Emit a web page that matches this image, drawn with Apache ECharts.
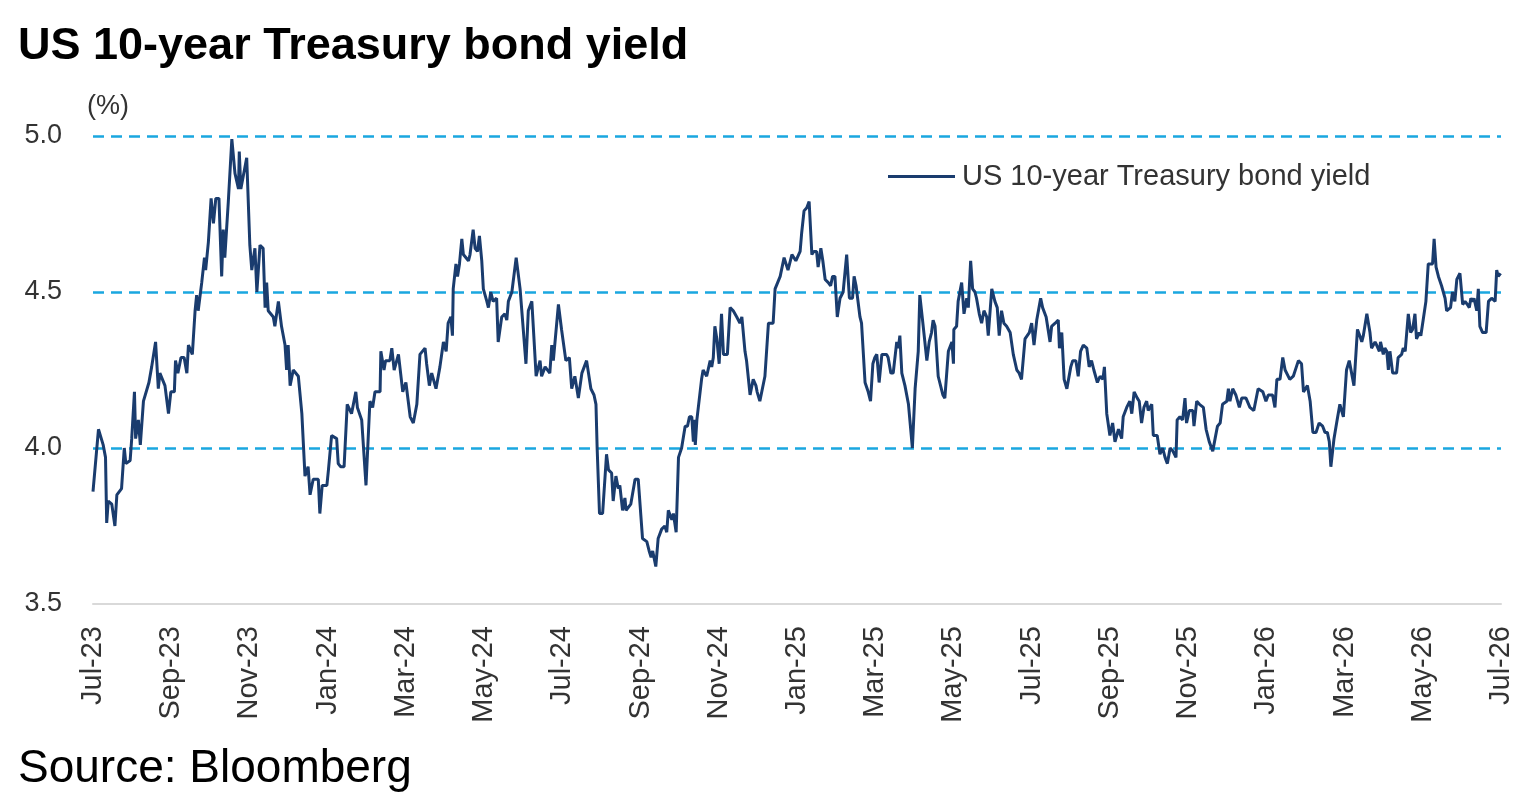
<!DOCTYPE html>
<html>
<head>
<meta charset="utf-8">
<title>US 10-year Treasury bond yield</title>
<script src="https://cdn.jsdelivr.net/npm/echarts@6/dist/echarts.min.js"></script>
<style>
  html, body { margin: 0; padding: 0; background: #fff; }
  #chart { width: 1526px; height: 798px; }
</style>
</head>
<body>
<div id="chart"></div>
<script type="text/javascript">
// tick labels, one every 2 months starting Jul-23
var monthLabels = ['Jul-23', 'Sep-23', 'Nov-23', 'Jan-24', 'Mar-24', 'May-24', 'Jul-24', 'Sep-24',
  'Nov-24', 'Jan-25', 'Mar-25', 'May-25', 'Jul-25', 'Sep-25', 'Nov-25', 'Jan-26', 'Mar-26',
  'May-26', 'Jul-26'];

// position of each reading in months since Jul-23
var monthPos = [
  0.00, 0.14, 0.26, 0.32, 0.35, 0.39, 0.48, 0.56, 0.61, 0.73,
  0.80, 0.84, 0.95, 0.99, 1.06, 1.09, 1.16, 1.21, 1.29, 1.43,
  1.50, 1.60, 1.67, 1.71, 1.84, 1.93, 1.99, 2.08, 2.11, 2.17,
  2.25, 2.33, 2.40, 2.44, 2.54, 2.61, 2.65, 2.69, 2.78, 2.85,
  2.88, 2.95, 3.02, 3.08, 3.14, 3.22, 3.29, 3.33, 3.37, 3.46,
  3.55, 3.63, 3.72, 3.74, 3.78, 3.93, 4.01, 4.06, 4.14, 4.19,
  4.27, 4.35, 4.40, 4.44, 4.48, 4.61, 4.65, 4.74, 4.82, 4.91,
  4.95, 4.99, 5.04, 5.12, 5.25, 5.34, 5.42, 5.50, 5.55, 5.63,
  5.76, 5.80, 5.86, 5.98, 6.02, 6.10,
  6.23, 6.27, 6.33, 6.42, 6.50, 6.61, 6.72, 6.76, 6.87, 6.98,
  7.08, 7.15, 7.21, 7.34, 7.36, 7.44, 7.48, 7.59, 7.64, 7.70,
  7.81, 7.92, 8.00, 8.11, 8.19, 8.28, 8.36, 8.49, 8.53, 8.60,
  8.66, 8.77, 8.87, 8.96, 9.03, 9.08, 9.15, 9.19, 9.21, 9.28,
  9.32, 9.37, 9.43, 9.47, 9.60, 9.64, 9.72, 9.77, 9.83, 9.88,
  9.94, 9.98, 10.07, 10.11, 10.17, 10.23, 10.32, 10.36, 10.45, 10.53,
  10.58, 10.62, 10.71, 10.82, 10.92, 11.07, 11.13, 11.22, 11.33, 11.43,
  11.47, 11.56, 11.68, 11.73, 11.77, 11.90, 11.98, 12.09, 12.18, 12.24,
  12.32, 12.41,
  12.50, 12.62, 12.73, 12.81, 12.86, 12.89, 12.95, 13.03, 13.13, 13.18,
  13.26, 13.30, 13.37, 13.43, 13.47, 13.54, 13.60, 13.63, 13.75, 13.86,
  13.94, 14.05, 14.16, 14.22, 14.27, 14.31, 14.39, 14.45, 14.54, 14.62,
  14.67, 14.71, 14.80, 14.84, 14.91, 14.97, 15.05, 15.14, 15.20, 15.25,
  15.31, 15.35, 15.37, 15.40, 15.44, 15.56, 15.60, 15.69, 15.78, 15.82,
  15.86, 15.90, 15.95, 16.01, 16.07, 16.12, 16.22, 16.29, 16.37, 16.46,
  16.54, 16.59, 16.67, 16.71, 16.80, 16.88, 16.95, 16.98, 17.05, 17.18,
  17.27, 17.39, 17.44, 17.57, 17.67, 17.77, 17.87, 17.97,
  18.08, 18.12, 18.18, 18.25, 18.31, 18.38, 18.43, 18.50, 18.54, 18.61,
  18.66, 18.72, 18.80, 18.86, 18.91, 18.97, 19.03, 19.10, 19.18, 19.27,
  19.34, 19.42, 19.46, 19.51, 19.61, 19.65, 19.74, 19.82, 19.88, 19.94,
  19.99, 20.04, 20.10, 20.17, 20.29, 20.33, 20.40, 20.46, 20.55, 20.59,
  20.63, 20.68, 20.76, 20.85, 20.95, 21.02, 21.10, 21.14, 21.21, 21.32,
  21.38, 21.44, 21.48, 21.53, 21.61, 21.73, 21.78, 21.87, 21.96, 22.00,
  22.01, 22.08, 22.12, 22.21, 22.27, 22.34, 22.38, 22.44, 22.49, 22.55,
  22.59, 22.66, 22.72, 22.78, 22.85, 22.89, 22.98, 23.06, 23.12, 23.17,
  23.23, 23.29, 23.36, 23.45, 23.53, 23.62, 23.68, 23.74, 23.83, 23.94,
  24.00, 24.06, 24.13, 24.23, 24.28, 24.37, 24.47,
  24.51, 24.60, 24.68, 24.71, 24.77, 24.83, 24.90, 25.00, 25.05, 25.13,
  25.19, 25.25, 25.32, 25.41, 25.47, 25.53, 25.59, 25.68, 25.75, 25.82,
  25.86, 25.92, 26.00, 26.07, 26.13, 26.22, 26.30, 26.34, 26.43, 26.51,
  26.56, 26.62, 26.70, 26.75, 26.81, 26.87, 26.94, 26.98, 27.07, 27.11,
  27.21, 27.28, 27.35, 27.41, 27.47, 27.54, 27.61, 27.69, 27.72, 27.79,
  27.86, 27.92, 27.96, 28.03, 28.12, 28.15, 28.22, 28.29, 28.39, 28.46,
  28.54, 28.63, 28.69, 28.75, 28.82, 28.88, 28.99, 29.03, 29.07, 29.14,
  29.22, 29.31, 29.37, 29.48, 29.58, 29.68, 29.79, 29.91, 29.99, 30.05,
  30.16, 30.22, 30.27, 30.35, 30.42, 30.48, 30.60, 30.69, 30.82,
  30.90, 30.95, 31.05, 31.12, 31.19, 31.27, 31.35, 31.44, 31.50, 31.56,
  31.61, 31.65, 31.73, 31.81, 31.88, 31.97, 32.05, 32.12, 32.18, 32.24,
  32.27, 32.33, 32.39, 32.44, 32.48, 32.57, 32.65, 32.69, 32.78, 32.82,
  32.89, 32.92, 32.99, 33.03, 33.08, 33.12, 33.16, 33.23, 33.33, 33.37,
  33.46, 33.50, 33.55, 33.63, 33.69, 33.74, 33.80, 33.84, 33.91, 33.95,
  34.01, 34.08, 34.14, 34.18, 34.25, 34.29, 34.34, 34.40, 34.48, 34.57,
  34.61, 34.65, 34.71, 34.76, 34.82, 34.87, 34.95, 35.02, 35.08, 35.14,
  35.19, 35.23, 35.28, 35.31, 35.38, 35.42, 35.46, 35.53, 35.62, 35.68,
  35.76, 35.85, 35.89, 35.93, 35.99
];

// yield (%)
var yields = [
  3.86, 4.06, 4.01, 3.97, 3.76, 3.83, 3.82, 3.75, 3.85, 3.87,
  4.00, 3.95, 3.96, 4.03, 4.18, 4.03, 4.09, 4.01, 4.15, 4.21,
  4.26, 4.34, 4.19, 4.24, 4.20, 4.11, 4.18, 4.18, 4.28, 4.24,
  4.29, 4.29, 4.24, 4.33, 4.30, 4.44, 4.49, 4.44, 4.53, 4.61,
  4.57, 4.66, 4.80, 4.72, 4.80, 4.80, 4.55, 4.70, 4.61, 4.79,
  4.99, 4.88, 4.83, 4.95, 4.83, 4.93, 4.65, 4.57, 4.64, 4.50,
  4.65, 4.64, 4.45, 4.53, 4.44, 4.42, 4.39, 4.47, 4.39, 4.33,
  4.25, 4.33, 4.20, 4.25, 4.23, 4.11, 3.91, 3.94, 3.85, 3.90,
  3.90, 3.79, 3.88, 3.88, 3.93, 4.04,
  4.03, 3.95, 3.94, 3.94, 4.14, 4.11, 4.18, 4.13, 4.09, 3.88,
  4.15, 4.13, 4.18, 4.18, 4.31, 4.25, 4.28, 4.28, 4.32, 4.25,
  4.30, 4.18, 4.21, 4.10, 4.08, 4.14, 4.30, 4.32, 4.27, 4.20,
  4.24, 4.19, 4.26, 4.34, 4.31, 4.40, 4.42, 4.36, 4.51, 4.59,
  4.55, 4.59, 4.67, 4.62, 4.60, 4.62, 4.70, 4.64, 4.63, 4.68,
  4.60, 4.51, 4.47, 4.45, 4.50, 4.47, 4.48, 4.34, 4.42, 4.43,
  4.41, 4.47, 4.50, 4.61, 4.51, 4.27, 4.44, 4.47, 4.23, 4.28,
  4.23, 4.26, 4.24, 4.33, 4.28, 4.46, 4.38, 4.28, 4.29, 4.19,
  4.23, 4.16,
  4.24, 4.28, 4.19, 4.17, 4.14, 4.00, 3.79, 3.79, 3.98, 3.93,
  3.92, 3.83, 3.91, 3.87, 3.88, 3.80, 3.84, 3.80, 3.82, 3.90,
  3.90, 3.71, 3.70, 3.67, 3.65, 3.67, 3.62, 3.71, 3.74, 3.75,
  3.73, 3.80, 3.77, 3.79, 3.73, 3.97, 4.00, 4.07, 4.07, 4.10,
  4.10, 4.02, 4.09, 4.01, 4.09, 4.22, 4.25, 4.23, 4.28, 4.26,
  4.29, 4.39, 4.35, 4.27, 4.43, 4.30, 4.30, 4.45, 4.44, 4.42,
  4.40, 4.42, 4.31, 4.28, 4.17, 4.22, 4.20, 4.18, 4.15, 4.23,
  4.40, 4.40, 4.51, 4.55, 4.61, 4.57, 4.62, 4.60,
  4.63, 4.69, 4.76, 4.77, 4.79, 4.62, 4.63, 4.63, 4.58, 4.64,
  4.60, 4.54, 4.53, 4.52, 4.55, 4.55, 4.42, 4.48, 4.50, 4.62,
  4.48, 4.48, 4.55, 4.52, 4.42, 4.40, 4.21, 4.18, 4.15, 4.27,
  4.29, 4.30, 4.21, 4.30, 4.30, 4.29, 4.24, 4.24, 4.34, 4.32,
  4.36, 4.24, 4.20, 4.14, 4.00, 4.19, 4.31, 4.49, 4.41, 4.28,
  4.34, 4.37, 4.41, 4.39, 4.23, 4.17, 4.16, 4.31, 4.34, 4.27,
  4.38, 4.39, 4.47, 4.53, 4.43, 4.48, 4.45, 4.60, 4.51, 4.50,
  4.48, 4.43, 4.40, 4.44, 4.42, 4.36, 4.51, 4.47, 4.45, 4.36,
  4.44, 4.40, 4.39, 4.37, 4.30, 4.25, 4.24, 4.22, 4.35, 4.37,
  4.40, 4.33, 4.41, 4.48, 4.45, 4.42, 4.34,
  4.39, 4.40, 4.41, 4.32, 4.37, 4.22, 4.19, 4.26, 4.28, 4.28,
  4.23, 4.31, 4.33, 4.32, 4.26, 4.28, 4.25, 4.21, 4.23, 4.22,
  4.26, 4.11, 4.04, 4.08, 4.02, 4.06, 4.03, 4.10, 4.13, 4.15,
  4.11, 4.18, 4.16, 4.15, 4.08, 4.13, 4.15, 4.12, 4.14, 4.04,
  4.04, 3.98, 4.00, 3.97, 3.95, 4.00, 3.99, 3.97, 4.09, 4.10,
  4.09, 4.16, 4.08, 4.12, 4.12, 4.07, 4.15, 4.14, 4.13, 4.06,
  4.02, 3.99, 4.03, 4.07, 4.08, 4.14, 4.15, 4.19, 4.15, 4.19,
  4.17, 4.13, 4.16, 4.16, 4.13, 4.12, 4.19, 4.18, 4.15, 4.17,
  4.17, 4.13, 4.22, 4.22, 4.29, 4.25, 4.22, 4.23, 4.28,
  4.27, 4.18, 4.20, 4.15, 4.05, 4.05, 4.08, 4.07, 4.05, 4.05,
  4.02, 3.94, 4.03, 4.09, 4.14, 4.10, 4.25, 4.28, 4.24, 4.20,
  4.26, 4.38, 4.36, 4.34, 4.36, 4.43, 4.37, 4.32, 4.34, 4.33,
  4.31, 4.34, 4.30, 4.32, 4.31, 4.25, 4.31, 4.24, 4.24, 4.29,
  4.30, 4.32, 4.31, 4.43, 4.37, 4.38, 4.43, 4.35, 4.37, 4.36,
  4.41, 4.47, 4.59, 4.59, 4.59, 4.67, 4.58, 4.55, 4.52, 4.48,
  4.44, 4.44, 4.45, 4.50, 4.47, 4.54, 4.56, 4.46, 4.47, 4.46,
  4.45, 4.48, 4.47, 4.48, 4.44, 4.51, 4.39, 4.37, 4.37, 4.47,
  4.48, 4.47, 4.57, 4.55, 4.56
];

var seriesName = 'US 10-year Treasury bond yield';

var seriesData = [];
for (var i = 0; i < Math.min(monthPos.length, yields.length); i++) {
  seriesData.push([monthPos[i], yields[i]]);
}
if (monthPos.length !== yields.length) console.error('length mismatch', monthPos.length, yields.length);

var chart = echarts.init(document.getElementById('chart'));

var option = {
  animation: false,
  backgroundColor: '#ffffff',
  textStyle: { fontFamily: 'Liberation Sans, Arial, sans-serif' },
  grid: { left: 93, right: 25, top: 136, bottom: 194, containLabel: false },
  legend: {
    data: [seriesName],
    left: 888,
    top: 162,
    padding: 0,
    icon: 'rect',
    itemWidth: 67,
    itemHeight: 3,
    textStyle: { fontSize: 29, color: '#333333', padding: [0, 0, 0, 2] }
  },
  xAxis: {
    type: 'value',
    min: 0,
    max: 36,
    interval: 2,
    axisLine: { show: true, onZero: false, lineStyle: { color: '#d9d9d9', width: 2 } },
    axisTick: { show: false },
    splitLine: { show: false },
    axisLabel: {
      rotate: 90,
      margin: 22,
      fontSize: 29,
      color: '#333333',
      showMinLabel: true,
      showMaxLabel: true,
      formatter: function (v) { return monthLabels[Math.round(v / 2)]; }
    }
  },
  yAxis: {
    type: 'value',
    min: 3.5,
    max: 5.0,
    interval: 0.5,
    name: '(%)',
    nameLocation: 'end',
    nameGap: 16,
    nameTextStyle: { fontSize: 27, color: '#333333', align: 'left', padding: [0, 0, 0, -6] },
    axisLine: { show: false },
    axisTick: { show: false },
    axisLabel: {
      margin: 31,
      fontSize: 27,
      color: '#333333',
      formatter: function (v) { return v.toFixed(1); }
    },
    splitLine: {
      show: true,
      lineStyle: {
        color: ['rgba(0,0,0,0)', '#1aa7e0', '#1aa7e0', '#1aa7e0'],
        type: [11, 7],
        width: 2.6
      }
    }
  },
  series: [{
    name: seriesName,
    type: 'line',
    data: seriesData,
    symbol: 'none',
    color: '#1a3c6e',
    lineStyle: { color: '#1a3c6e', width: 3 },
    z: 3
  }],
  graphic: [
    {
      type: 'text',
      left: 18,
      top: 24,
      style: {
        text: 'US 10-year Treasury bond yield',
        font: 'bold 45px "Liberation Sans", Arial, sans-serif',
        fill: '#000000'
      }
    },
    {
      type: 'text',
      left: 18,
      top: 746,
      style: {
        text: 'Source: Bloomberg',
        font: '46px "Liberation Sans", Arial, sans-serif',
        fill: '#000000'
      }
    }
  ]
};

chart.setOption(option);
</script>
</body>
</html>
